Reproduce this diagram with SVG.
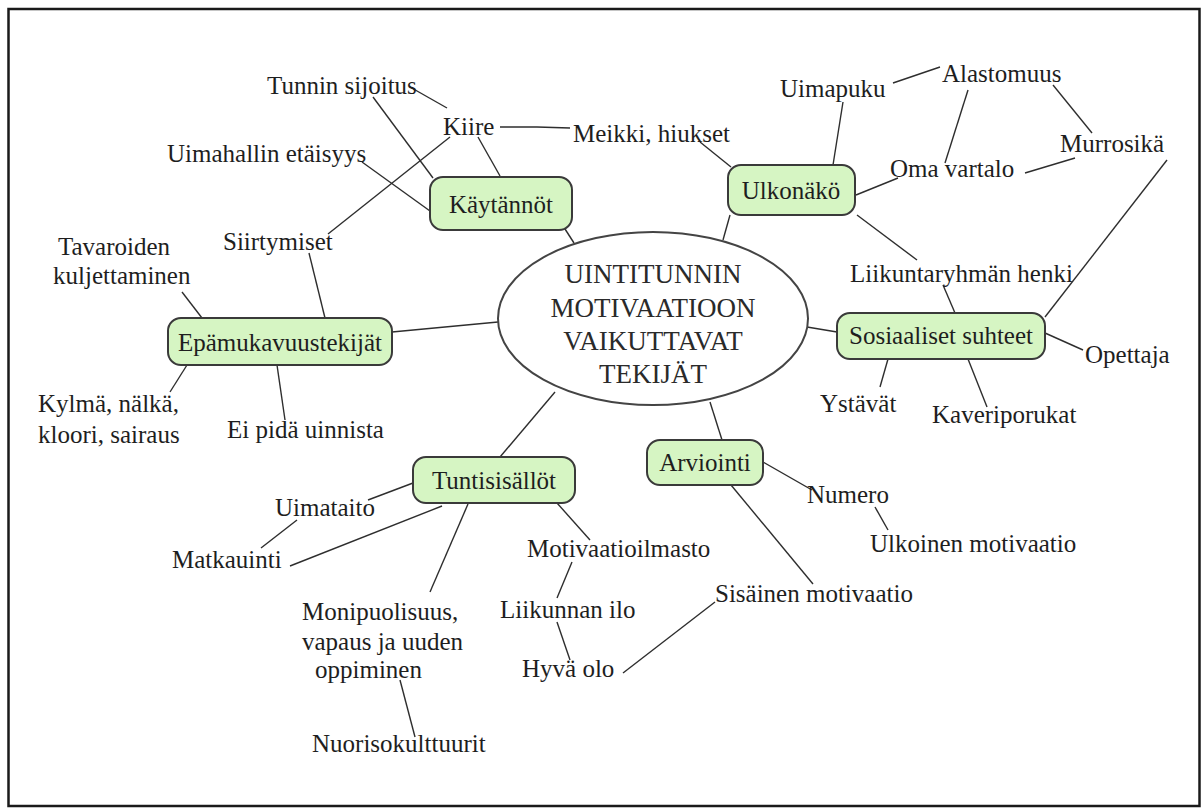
<svg xmlns="http://www.w3.org/2000/svg" width="1202" height="809" viewBox="0 0 1202 809">
<style>
text{font-size:25px;fill:#1e1e1e}
.c{text-anchor:middle}
.box{fill:#d6f5c3;stroke:#3a3a3a;stroke-width:2}
.ln{stroke:#2e2e2e;stroke-width:1.4;fill:none}
.big{font-size:27px;fill:#2a2a2a}
</style>
<rect x="0" y="0" width="1202" height="809" fill="#fff"/>
<rect x="8.5" y="9" width="1191" height="797" fill="none" stroke="#1a1a1a" stroke-width="2.5"/>
<g id="connectors" class="ln">
<line x1="410" y1="87" x2="447" y2="108"/>
<line x1="373" y1="97" x2="433" y2="178"/>
<line x1="362" y1="162" x2="430" y2="211"/>
<line x1="450" y1="137" x2="328" y2="234"/>
<line x1="478" y1="137" x2="500" y2="176"/>
<polyline points="500,127 537,127 570,128"/>
<line x1="700" y1="142" x2="731" y2="167"/>
<line x1="565" y1="229" x2="574" y2="243"/>
<line x1="730" y1="215" x2="723" y2="240"/>
<line x1="833" y1="165" x2="843" y2="102"/>
<line x1="893" y1="83" x2="940" y2="67"/>
<line x1="968" y1="90" x2="945" y2="163"/>
<line x1="1053" y1="85" x2="1092" y2="133"/>
<line x1="1025" y1="173" x2="1075" y2="158"/>
<line x1="856" y1="195" x2="898" y2="178"/>
<line x1="857" y1="215" x2="917" y2="260"/>
<line x1="1167" y1="160" x2="1045" y2="317"/>
<line x1="943" y1="285" x2="955" y2="313"/>
<line x1="807" y1="327" x2="837" y2="332"/>
<line x1="1045" y1="333" x2="1083" y2="350"/>
<line x1="888" y1="359" x2="880" y2="387"/>
<line x1="968" y1="359" x2="987" y2="407"/>
<line x1="498" y1="322" x2="392" y2="332"/>
<line x1="309" y1="253" x2="325" y2="318"/>
<line x1="182" y1="292" x2="202" y2="318"/>
<line x1="187" y1="365" x2="170" y2="392"/>
<line x1="277" y1="365" x2="285" y2="420"/>
<line x1="555" y1="392" x2="500" y2="457"/>
<line x1="710" y1="402" x2="722" y2="440"/>
<line x1="413" y1="483" x2="368" y2="500"/>
<line x1="297" y1="520" x2="261" y2="548"/>
<line x1="442" y1="506" x2="290" y2="566"/>
<line x1="468" y1="504" x2="430" y2="592"/>
<line x1="557" y1="503" x2="590" y2="540"/>
<line x1="572" y1="562" x2="557" y2="598"/>
<line x1="557" y1="622" x2="570" y2="660"/>
<line x1="623" y1="673" x2="715" y2="602"/>
<line x1="731" y1="485" x2="813" y2="584"/>
<line x1="763" y1="462" x2="812" y2="490"/>
<line x1="875" y1="507" x2="888" y2="530"/>
<line x1="400" y1="680" x2="415" y2="737"/>
</g>
<g font-family="Liberation Serif, DejaVu Serif, serif">
<g id="center">
<ellipse cx="653" cy="318.5" rx="155" ry="86.5" fill="#fff" stroke="#444" stroke-width="2"/>
<text class="c big" x="653" y="283">UINTITUNNIN</text>
<text class="c big" x="653" y="317">MOTIVAATIOON</text>
<text class="c big" x="653" y="350">VAIKUTTAVAT</text>
<text class="c big" x="653" y="383">TEKIJÄT</text>
</g>
<g id="kaytannot"><rect class="box" x="430" y="177" width="142" height="53" rx="13"/><text class="c" x="501" y="213">Käytännöt</text></g>
<g id="ulkonako"><rect class="box" x="728" y="165" width="127" height="50" rx="13"/><text class="c" x="791" y="199">Ulkonäkö</text></g>
<g id="epamukavuus"><rect class="box" x="168" y="318" width="224" height="47" rx="13"/><text class="c" x="280" y="351">Epämukavuustekijät</text></g>
<g id="sosiaaliset"><rect class="box" x="837" y="313" width="208" height="46" rx="13"/><text class="c" x="941" y="344">Sosiaaliset suhteet</text></g>
<g id="tuntisisallot"><rect class="box" x="413" y="457" width="162" height="46" rx="13"/><text class="c" x="494" y="489">Tuntisisällöt</text></g>
<g id="arviointi"><rect class="box" x="647" y="440" width="116" height="45" rx="13"/><text class="c" x="705" y="471">Arviointi</text></g>
<g id="tunnin"><text x="267" y="94">Tunnin sijoitus</text></g>
<g id="uimahallin"><text x="167" y="162">Uimahallin etäisyys</text></g>
<g id="kiire"><text x="443" y="135">Kiire</text></g>
<g id="meikki"><text x="573" y="142">Meikki, hiukset</text></g>
<g id="siirtymiset"><text x="223" y="250">Siirtymiset</text></g>
<g id="tavaroiden"><text x="58" y="255">Tavaroiden</text><text x="53" y="284">kuljettaminen</text></g>
<g id="kylma"><text x="38" y="412">Kylmä, nälkä,</text><text x="38" y="443">kloori, sairaus</text></g>
<g id="eipida"><text x="227" y="438">Ei pidä uinnista</text></g>
<g id="uimataito"><text x="275" y="516">Uimataito</text></g>
<g id="matkauinti"><text x="172" y="568">Matkauinti</text></g>
<g id="monipuolisuus"><text x="302" y="620">Monipuolisuus,</text><text x="302" y="650">vapaus ja uuden</text><text x="315" y="678">oppiminen</text></g>
<g id="nuoriso"><text x="312" y="752">Nuorisokulttuurit</text></g>
<g id="motivaatioilmasto"><text x="527" y="557">Motivaatioilmasto</text></g>
<g id="liikunnan"><text x="500" y="618">Liikunnan ilo</text></g>
<g id="hyva"><text x="522" y="677">Hyvä olo</text></g>
<g id="sisainen"><text x="715" y="602">Sisäinen motivaatio</text></g>
<g id="numero"><text x="807" y="503">Numero</text></g>
<g id="ulkoinen"><text x="870" y="552">Ulkoinen motivaatio</text></g>
<g id="ystavat"><text x="820" y="412">Ystävät</text></g>
<g id="kaveri"><text x="932" y="423">Kaveriporukat</text></g>
<g id="opettaja"><text x="1085" y="363">Opettaja</text></g>
<g id="liikuntaryhman"><text x="850" y="282">Liikuntaryhmän henki</text></g>
<g id="murrosika"><text x="1060" y="152">Murrosikä</text></g>
<g id="omavartalo"><text x="890" y="177">Oma vartalo</text></g>
<g id="alastomuus"><text x="942" y="82">Alastomuus</text></g>
<g id="uimapuku"><text x="780" y="97">Uimapuku</text></g>
</g>
</svg>
